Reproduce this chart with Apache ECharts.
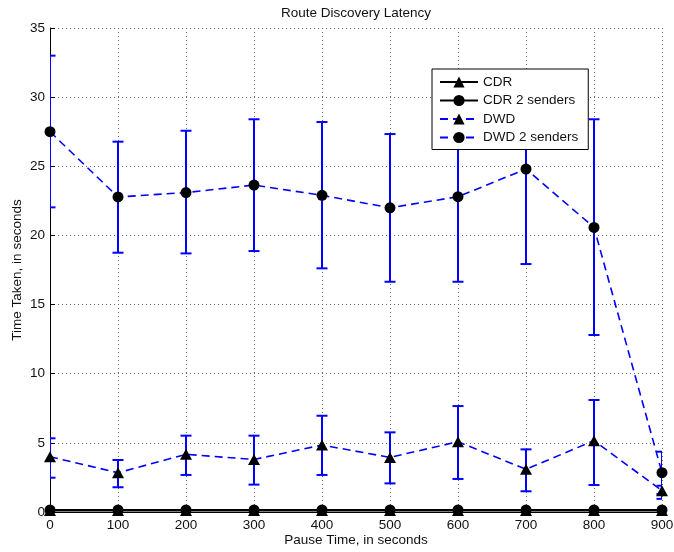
<!DOCTYPE html>
<html>
<head>
<meta charset="utf-8">
<title>Route Discovery Latency</title>
<script src="https://cdn.jsdelivr.net/npm/echarts@6/dist/echarts.min.js"></script>
<style>
  html, body { margin: 0; padding: 0; background: #fff; }
  #chart { width: 674px; height: 552px; }
</style>
</head>
<body>
<div id="chart"></div>
<script>
// Pause times (seconds)
const pauseTimes = [0, 100, 200, 300, 400, 500, 600, 700, 800, 900];

// Mean route discovery latency (seconds)
const cdr            = [0.10, 0.10, 0.10, 0.10, 0.10, 0.10, 0.10, 0.10, 0.10, 0.10];
const cdr2Senders    = [0.15, 0.15, 0.15, 0.15, 0.15, 0.15, 0.15, 0.15, 0.15, 0.15];
const dwd            = [4.0, 2.84, 4.17, 3.8, 4.84, 3.95, 5.08, 3.09, 5.16, 1.54];
const dwd2Senders    = [27.5, 22.78, 23.1, 23.64, 22.9, 22.0, 22.8, 24.8, 20.58, 2.84];

// Error bar bounds (low / high)
const dwdLow         = [2.48, 1.79, 2.68, 1.98, 2.68, 2.07, 2.39, 1.5, 1.95, 0.95];
const dwdHigh        = [5.33, 3.76, 5.52, 5.52, 6.96, 5.76, 7.66, 4.53, 8.1, 1.9];
const dwd2Low        = [22.03, 18.75, 18.7, 18.87, 17.62, 16.65, 16.65, 17.93, 12.8, 1.3];
const dwd2High       = [33.0, 26.78, 27.57, 28.4, 28.2, 27.33, 29.0, 31.7, 28.4, 4.36];

// Axis ticks
const xTicks = { min: 0, max: 900, step: 100 };
const yTicks = { min: 0, max: 35, step: 5 };

const FONT = "'Liberation Sans', Arial, Helvetica, sans-serif";
const BLUE = '#0000ff';

const pairs = (xs, ys) => xs.map((x, i) => [x, ys[i]]);
const bars = (xs, lo, hi) => xs.map((x, i) => [x, lo[i], hi[i]]);

function renderErrorBar(params, api) {
  const x = api.value(0);
  const pLo = api.coord([x, api.value(1)]);
  const pHi = api.coord([x, api.value(2)]);
  const hw = 5.5;
  const style = { stroke: BLUE, lineWidth: 2, fill: null };
  return {
    type: 'group',
    children: [
      { type: 'line', shape: { x1: pLo[0], y1: pLo[1], x2: pHi[0], y2: pHi[1] }, style },
      { type: 'line', shape: { x1: pLo[0] - hw, y1: pLo[1], x2: pLo[0] + hw, y2: pLo[1] }, style },
      { type: 'line', shape: { x1: pHi[0] - hw, y1: pHi[1], x2: pHi[0] + hw, y2: pHi[1] }, style }
    ]
  };
}

const axisCommon = {
  type: 'value',
  axisLine: { show: true, onZero: false, lineStyle: { color: '#000', width: 1 } },
  axisTick: { show: true, inside: true, length: 5, lineStyle: { color: '#000' } },
  axisLabel: { color: '#111', fontFamily: FONT, fontSize: 13.5 },
  splitLine: { show: true, lineStyle: { color: '#666', width: 1, type: [1, 3] } },
  nameLocation: 'middle',
  nameMoveOverlap: false,
  nameTextStyle: { color: '#111', fontFamily: FONT, fontSize: 13.5 }
};

const chart = echarts.init(document.getElementById('chart'), null, { renderer: 'canvas' });

chart.setOption({
  animation: false,
  backgroundColor: '#fff',
  grid: { left: 50, top: 28, right: 12, bottom: 40, containLabel: false, outerBoundsMode: 'none' },
  graphic: [{
    type: 'text', x: 356, y: 13,
    style: { text: 'Route Discovery Latency', textAlign: 'center', textVerticalAlign: 'middle',
             font: '13.5px ' + FONT, fill: '#111' }
  }],
  xAxis: Object.assign({}, axisCommon, {
    min: xTicks.min, max: xTicks.max, interval: xTicks.step,
    name: 'Pause Time, in seconds', nameGap: 21,
    axisLabel: Object.assign({}, axisCommon.axisLabel, { margin: 6 })
  }),
  yAxis: Object.assign({}, axisCommon, {
    min: yTicks.min, max: yTicks.max, interval: yTicks.step,
    name: 'Time Taken, in seconds', nameGap: 26,
    axisLabel: Object.assign({}, axisCommon.axisLabel, { margin: 5 })
  }),
  legend: {
    orient: 'vertical',
    left: 432, top: 69,
    padding: [6, 10, 5, 7],
    itemWidth: 38, itemHeight: 14, itemGap: 4.5,
    backgroundColor: '#fff',
    borderColor: '#000', borderWidth: 1, borderRadius: 0,
    textStyle: { color: '#111', fontFamily: FONT, fontSize: 13.5, lineHeight: 14 },
    data: ['CDR', 'CDR 2 senders', 'DWD', 'DWD 2 senders']
  },
  series: [
    {
      type: 'custom', name: 'DWD error', clip: true, z: 1,
      renderItem: renderErrorBar, data: bars(pauseTimes, dwdLow, dwdHigh)
    },
    {
      type: 'custom', name: 'DWD 2 senders error', clip: true, z: 1,
      renderItem: renderErrorBar, data: bars(pauseTimes, dwd2Low, dwd2High)
    },
    {
      type: 'line', name: 'CDR', data: pairs(pauseTimes, cdr), clip: false, z: 3,
      symbol: 'triangle', symbolSize: [12, 11], showAllSymbol: true,
      lineStyle: { color: '#000', width: 2 }, itemStyle: { color: '#000' }
    },
    {
      type: 'line', name: 'CDR 2 senders', data: pairs(pauseTimes, cdr2Senders), clip: false, z: 3,
      symbol: 'circle', symbolSize: 11, showAllSymbol: true,
      lineStyle: { color: '#000', width: 2 }, itemStyle: { color: '#000' }
    },
    {
      type: 'line', name: 'DWD', data: pairs(pauseTimes, dwd), clip: false, z: 3,
      symbol: 'triangle', symbolSize: [12, 11], showAllSymbol: true,
      lineStyle: { color: BLUE, width: 1.6, type: [8, 5] }, itemStyle: { color: '#000' }
    },
    {
      type: 'line', name: 'DWD 2 senders', data: pairs(pauseTimes, dwd2Senders), clip: false, z: 3,
      symbol: 'circle', symbolSize: 11, showAllSymbol: true,
      lineStyle: { color: BLUE, width: 1.6, type: [8, 5] }, itemStyle: { color: '#000' }
    }
  ]
});
</script>
</body>
</html>
